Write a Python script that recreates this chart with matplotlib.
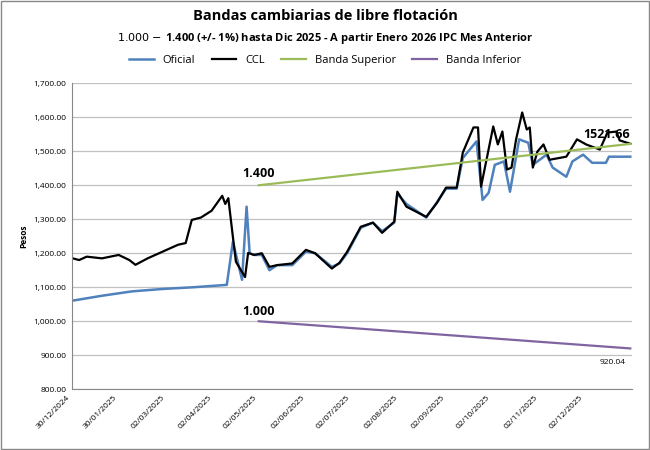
import matplotlib.pyplot as plt
import matplotlib.dates as mdates
import matplotlib.ticker as mticker
import pandas as pd

# Días desde 30/12/2024 y valores
ccl_dias = [0, 5, 10, 20, 31, 38, 42, 50, 60, 70, 75, 79, 85, 92, 99, 101, 103, 106, 108, 114, 116,
            120, 125, 130, 135, 145, 154, 160, 171, 176, 181, 190, 198, 204, 212, 214, 220, 233, 240,
            246, 253, 257, 264, 267, 269, 277, 280, 283, 286, 289, 292, 296, 299, 301, 303, 306, 310,
            314, 325, 332, 338, 347, 352, 358, 360, 367]
ccl_val = [1186, 1180, 1190, 1185, 1195, 1180, 1166, 1185, 1205, 1225, 1230, 1298, 1305, 1325, 1369, 1345, 1362,
           1248, 1175, 1130, 1201, 1195, 1200, 1160, 1165, 1170, 1210, 1200, 1155, 1172, 1204, 1278, 1290, 1260,
           1293, 1381, 1337, 1307, 1348, 1393, 1393, 1496, 1570, 1570, 1396, 1573, 1520, 1558, 1446, 1452,
           1535, 1614, 1564, 1570, 1452, 1499, 1520, 1475, 1484, 1535, 1520, 1505, 1555, 1558, 1532, 1522]

of_dias = [0, 20, 40, 60, 80, 102, 106, 112, 115, 117, 120, 125, 130, 135, 145, 154, 160, 171, 176, 181,
           190, 198, 204, 212, 214, 220, 233, 240, 246, 253, 257, 266, 270, 274, 278, 284, 288, 294, 300,
           303, 312, 316, 325, 329, 336, 342, 351, 353, 367]
of_val = [1060, 1075, 1088, 1095, 1100, 1107, 1234, 1122, 1337, 1200, 1195, 1195, 1150, 1165, 1165, 1205, 1200,
          1160, 1170, 1200, 1275, 1290, 1265, 1290, 1375, 1345, 1305, 1350, 1390, 1390, 1480, 1529, 1357, 1378,
          1460, 1470, 1381, 1535, 1525, 1460, 1490, 1452, 1425, 1470, 1490, 1466, 1466, 1484, 1484]

banda_dias = [123, 367]
banda_sup = [1400, 1521.66]
banda_inf = [1000, 920.04]

inicio = pd.Timestamp('2024-12-30')
fechas = lambda d: [inicio + pd.Timedelta(days=x) for x in d]

tick_fechas = ['2024-12-30', '2025-01-30', '2025-03-02', '2025-04-02', '2025-05-02', '2025-06-02',
               '2025-07-02', '2025-08-02', '2025-09-02', '2025-10-02', '2025-11-02', '2025-12-02']

plt.rcParams['font.family'] = ['Open Sans', 'DejaVu Sans']

fig = plt.figure(figsize=(6.5, 4.5), dpi=100)
fig.patches.append(plt.Rectangle((0.002, 0.002), 0.996, 0.996, transform=fig.transFigure,
                                 fill=False, edgecolor='#888888', lw=1))
ax = fig.add_axes([0.11, 0.135, 0.862, 0.68])

ax.plot(fechas(of_dias), of_val, color='#4f81bd', lw=1.8, label='Oficial')
ax.plot(fechas(ccl_dias), ccl_val, color='black', lw=1.6, label='CCL')
ax.plot(fechas(banda_dias), banda_sup, color='#9bbb59', lw=1.6, label='Banda Superior')
ax.plot(fechas(banda_dias), banda_inf, color='#8064a2', lw=1.6, label='Banda Inferior')

ax.text(fechas([banda_dias[0]])[0], 1425, '1.400', fontsize=9, fontweight='bold', ha='center')
ax.text(fechas([banda_dias[0]])[0], 1018, '1.000', fontsize=9, fontweight='bold', ha='center')
ax.text(fechas([banda_dias[1]])[0], 1540, '1521.66', fontsize=9, fontweight='bold', ha='right')
ax.text(fechas([banda_dias[1] - 3])[0], 875, '920.04', fontsize=6, ha='right')

ax.set_ylim(800, 1700)
ax.set_xlim(inicio, inicio + pd.Timedelta(days=368))
ax.yaxis.set_major_locator(mticker.MultipleLocator(100))
ax.yaxis.set_major_formatter(mticker.FuncFormatter(lambda v, p: f'{v:,.2f}'))
ax.set_xticks(pd.to_datetime(tick_fechas))
ax.xaxis.set_major_formatter(mdates.DateFormatter('%d/%m/%Y'))
plt.setp(ax.get_xticklabels(), rotation=45, ha='right', fontsize=6)
plt.setp(ax.get_yticklabels(), fontsize=6)
ax.tick_params(length=0)
ax.grid(axis='y', color='#c0c0c0', lw=0.9)
ax.set_axisbelow(True)
for s in ['top', 'right']:
    ax.spines[s].set_visible(False)
ax.spines['left'].set_color('#888888')
ax.spines['bottom'].set_color('#888888')
ax.set_ylabel('Pesos', fontsize=6, fontweight='bold')

fig.text(0.5, 0.955, 'Bandas cambiarias de libre flotación', ha='center', fontsize=10.5, fontweight='bold')
fig.text(0.5, 0.91, '$ 1.000 - $ 1.400 (+/- 1%) hasta Dic 2025 - A partir Enero 2026 IPC Mes Anterior',
         ha='center', fontsize=8, fontweight='bold')
fig.legend(loc='center', bbox_to_anchor=(0.5, 0.865), ncol=4, frameon=False, fontsize=8,
           handlelength=2.2, columnspacing=1.5)

fig.savefig('out.png')
